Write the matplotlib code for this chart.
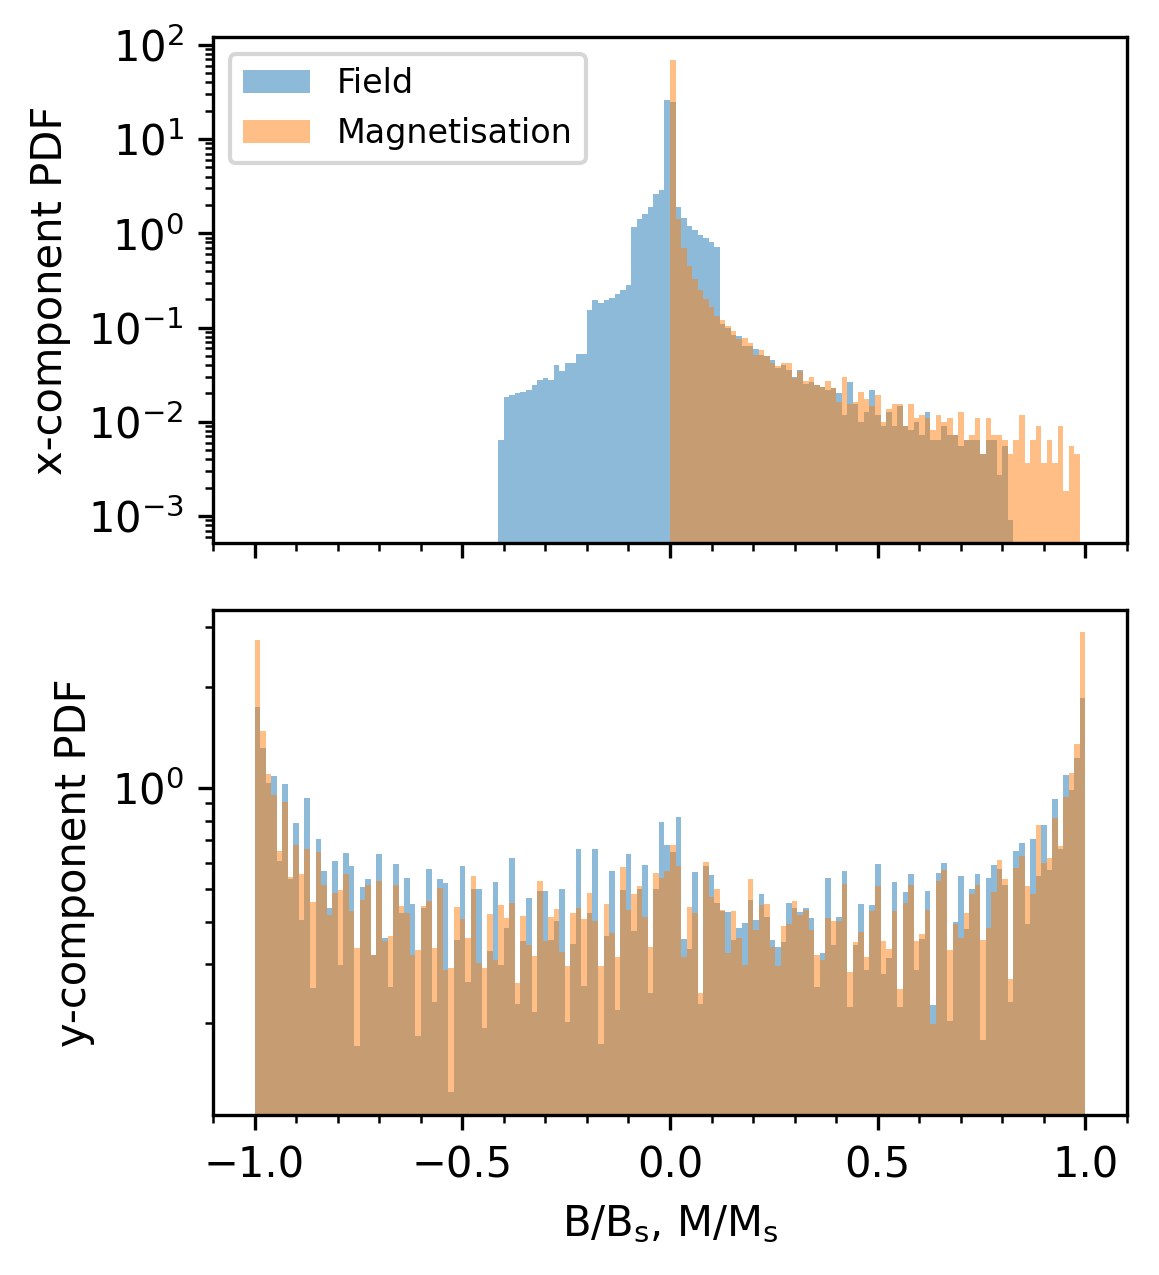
import numpy as np
import matplotlib
matplotlib.use("Agg")
import matplotlib.pyplot as plt

# ---- data ----
n_bins = 150
bin_range = (-1.0, 1.0)

# x-component PDFs (non-zero bins only, first bin index given)
field_x_start = 44
field_x_pdf = [
    0.00638, 0.01824, 0.01914, 0.0203, 0.0208, 0.0218, 0.0247, 0.0276, 0.0290, 0.0276,
    0.0398, 0.0344, 0.0422, 0.0422, 0.0521, 0.0521, 0.1526, 0.1948, 0.1810, 0.1948,
    0.2045, 0.2254, 0.2486, 0.2809, 1.158, 1.408, 1.590, 1.887, 2.592, 2.858,
    25.7, 24.5, 1.887, 1.443, 1.186, 1.076, 0.952, 0.885, 0.803, 0.710,
    0.1084, 0.0983, 0.0828, 0.0808, 0.0633, 0.0633, 0.0589, 0.0508, 0.0496, 0.0450,
    0.0370, 0.0398, 0.0352, 0.0297, 0.0352, 0.0250, 0.0263, 0.0244, 0.0233, 0.0216,
    0.0227, 0.0201, 0.01175, 0.0263, 0.01537, 0.00990, 0.01264, 0.0216, 0.01175, 0.00898,
    0.01264, 0.00898, 0.01463, 0.00898, 0.00814, 0.00990, 0.00721, 0.01264, 0.00638, 0.00638,
    0.00898, 0.00721, 0.00721, 0.00551, 0.00638, 0.00638, 0.00638, 0.00453, 0.00638, 0.00638,
    0.00272, 0.00551, 0.000905,
]
magn_x_start = 75
magn_x_pdf = [
    68.3, 1.408, 0.693, 0.4467, 0.3252, 0.2486, 0.1996, 0.1641, 0.1318, 0.1195,
    0.1032, 0.0914, 0.0751, 0.0770, 0.0682, 0.0508, 0.0574, 0.0496, 0.0418, 0.0389,
    0.0418, 0.0418, 0.0290, 0.0344, 0.0270, 0.0297, 0.0244, 0.0233, 0.0270, 0.0227,
    0.01613, 0.0297, 0.01537, 0.01613, 0.0206, 0.01737, 0.01463, 0.01915, 0.00990, 0.01360,
    0.01537, 0.01537, 0.00898, 0.01537, 0.01092, 0.01175, 0.01092, 0.00814, 0.01175, 0.00990,
    0.01092, 0.00721, 0.01264, 0.00638, 0.00721, 0.01092, 0.00453, 0.01092, 0.00721, 0.00721,
    0.00638, 0.00453, 0.00638, 0.01175, 0.00364, 0.00638, 0.00898, 0.00364, 0.00638, 0.00364,
    0.00898, 0.00184, 0.00551, 0.00453,
]

# y-component PDFs (all 150 bins)
field_y_pdf = [
    1.734, 1.318, 1.037, 1.088, 0.608, 1.030, 0.537, 0.789, 0.406, 0.936,
    0.254, 0.707, 0.568, 0.440, 0.608, 0.298, 0.642, 0.587, 0.171, 0.509,
    0.537, 0.319, 0.638, 0.359, 0.256, 0.595, 0.426, 0.541, 0.453, 0.183,
    0.440, 0.575, 0.231, 0.537, 0.523, 0.125, 0.354, 0.587, 0.265, 0.502,
    0.502, 0.193, 0.328, 0.526, 0.298, 0.384, 0.620, 0.228, 0.351, 0.472,
    0.216, 0.495, 0.495, 0.354, 0.403, 0.502, 0.202, 0.344, 0.660, 0.258,
    0.426, 0.660, 0.173, 0.363, 0.568, 0.219, 0.498, 0.638, 0.376, 0.502,
    0.591, 0.246, 0.502, 0.794, 0.678, 0.646, 0.822, 0.356, 0.332, 0.564,
    0.228, 0.587, 0.552, 0.456, 0.431, 0.428, 0.354, 0.384, 0.397, 0.465,
    0.406, 0.485, 0.414, 0.354, 0.337, 0.349, 0.456, 0.440, 0.428, 0.440,
    0.411, 0.256, 0.324, 0.541, 0.342, 0.414, 0.568, 0.223, 0.342, 0.453,
    0.288, 0.449, 0.595, 0.280, 0.313, 0.526, 0.223, 0.491, 0.556, 0.288,
    0.356, 0.495, 0.226, 0.560, 0.599, 0.203, 0.400, 0.548, 0.381, 0.502,
    0.556, 0.178, 0.541, 0.591, 0.575, 0.516, 0.231, 0.651, 0.688, 0.395,
    0.707, 0.548, 0.778, 0.571, 0.930, 0.660, 1.096, 0.989, 1.223, 1.845,
]
magn_y_pdf = [
    2.76, 1.481, 1.103, 0.955, 0.651, 0.911, 0.542, 0.678, 0.556, 0.660,
    0.459, 0.646, 0.516, 0.418, 0.488, 0.498, 0.556, 0.431, 0.335, 0.465,
    0.516, 0.319, 0.530, 0.351, 0.363, 0.516, 0.446, 0.426, 0.319, 0.330,
    0.446, 0.462, 0.335, 0.505, 0.288, 0.292, 0.443, 0.408, 0.359, 0.548,
    0.302, 0.292, 0.423, 0.308, 0.449, 0.411, 0.456, 0.263, 0.417, 0.342,
    0.317, 0.530, 0.351, 0.414, 0.437, 0.326, 0.296, 0.426, 0.440, 0.408,
    0.488, 0.403, 0.296, 0.453, 0.371, 0.315, 0.583, 0.434, 0.485, 0.512,
    0.414, 0.337, 0.560, 0.541, 0.568, 0.678, 0.587, 0.315, 0.443, 0.426,
    0.246, 0.604, 0.475, 0.502, 0.434, 0.324, 0.431, 0.359, 0.298, 0.537,
    0.379, 0.449, 0.453, 0.337, 0.296, 0.389, 0.395, 0.462, 0.420, 0.434,
    0.379, 0.319, 0.308, 0.411, 0.403, 0.403, 0.519, 0.284, 0.349, 0.374,
    0.315, 0.431, 0.512, 0.351, 0.332, 0.431, 0.253, 0.456, 0.516, 0.351,
    0.368, 0.434, 0.199, 0.530, 0.571, 0.330, 0.395, 0.359, 0.426, 0.485,
    0.516, 0.354, 0.384, 0.491, 0.612, 0.537, 0.271, 0.579, 0.629, 0.512,
    0.485, 0.778, 0.599, 0.620, 0.816, 0.674, 0.942, 1.111, 1.346, 2.90,
]

series_labels = ["Field", "Magnetisation"]
x_label = r"B/B$_\mathrm{s}$, M/M$_\mathrm{s}$"
y_labels = ["x-component PDF", "y-component PDF"]

# ---- build full-length arrays ----
edges = np.linspace(bin_range[0], bin_range[1], n_bins + 1)
centers = 0.5 * (edges[:-1] + edges[1:])

def full(vals, start):
    arr = np.zeros(n_bins)
    arr[start:start + len(vals)] = vals
    return arr

fx = full(field_x_pdf, field_x_start)
mx = full(magn_x_pdf, magn_x_start)
fy = np.asarray(field_y_pdf)
my = np.asarray(magn_y_pdf)

# ---- plot ----
fig, (ax1, ax2) = plt.subplots(2, 1, sharex=True, figsize=(1159 / 300, 1275 / 300), dpi=300)
fig.subplots_adjust(left=0.1838, right=0.9724, top=0.9707, bottom=0.1255, hspace=0.132)

for ax, (f, m) in zip((ax1, ax2), ((fx, mx), (fy, my))):
    ax.hist(centers, bins=edges, weights=f, alpha=0.5, color="C0", label=series_labels[0], log=True)
    ax.hist(centers, bins=edges, weights=m, alpha=0.5, color="C1", label=series_labels[1], log=True)
    ax.minorticks_on()

ax1.set_xlim(-1.1, 1.1)
ax1.set_ylim(5.2e-4, 1.2e2)
ax2.set_ylim(0.1066, 3.39)

ax1.set_ylabel(y_labels[0])
ax2.set_ylabel(y_labels[1])
ax2.set_xlabel(x_label)
ax1.legend(loc="upper left", fontsize=8)

fig.savefig("out.png", dpi=300)
